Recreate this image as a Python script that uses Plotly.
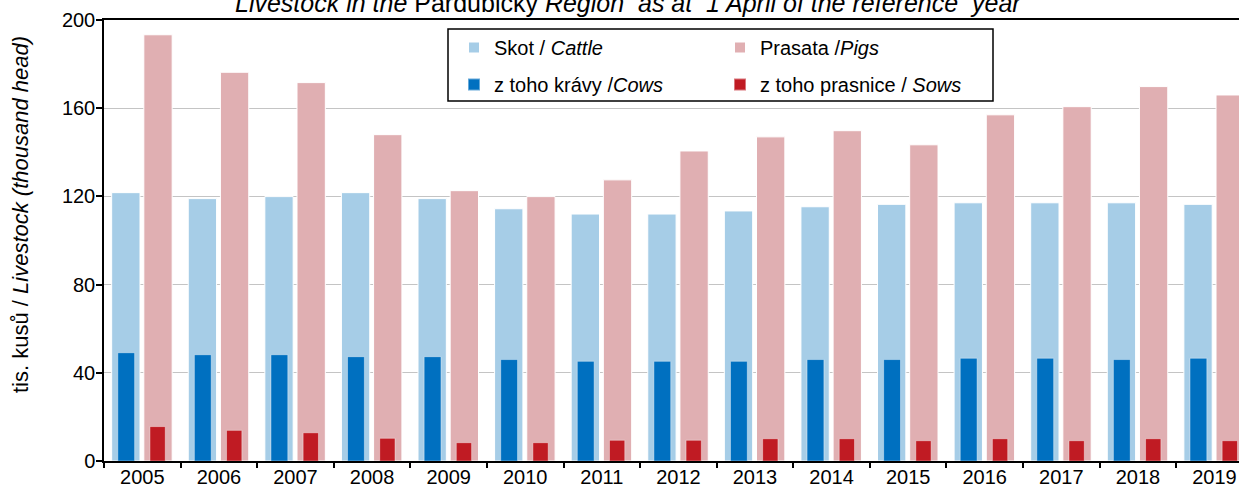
import plotly.graph_objects as go

years = [str(y) for y in range(2005, 2020)]
cattle = [121.7, 119.0, 119.9, 121.7, 119.0, 114.4, 112.0, 112.0, 113.4, 115.3, 116.4, 117.1, 117.1, 117.1, 116.4]
pigs = [193.3, 176.3, 171.6, 148.0, 122.6, 119.9, 127.5, 140.6, 147.0, 149.8, 143.4, 157.0, 160.7, 169.8, 166.0]
cows = [49.1, 48.2, 48.2, 47.3, 47.3, 46.0, 45.2, 45.2, 45.2, 46.0, 46.0, 46.6, 46.6, 46.0, 46.6]
sows = [15.6, 13.9, 12.8, 10.3, 8.3, 8.3, 9.4, 9.4, 10.1, 10.1, 9.2, 10.1, 9.2, 10.1, 9.2]

title_text = "<i>Livestock in the</i> Pardubický <i>Region  as at  1 April of the reference  year</i>"
ytitle_text = "tis. kusů / <i>Livestock (thousand head)</i>"

C_CATTLE = "#A6CDE7"
C_PIGS = "#E0AFB2"
C_COWS = "#0070C0"
C_SOWS = "#C01B23"

FONT = "Liberation Sans, Arial, sans-serif"

W, H = 1239, 497
L, T, B = 104, 20, 36
PW, PH = W - L, H - T - B

def px_x(x):
    return (x - L) / PW

def px_y(y):
    return 1 - (y - T) / PH

fig = go.Figure()
line = dict(color="white", width=1)
fig.add_trace(go.Bar(x=years, y=cattle, name="Skot / <i>Cattle</i>", marker=dict(color=C_CATTLE, line=line),
                     offset=-0.40, width=0.37, legend="legend", legendgroup="a"))
fig.add_trace(go.Bar(x=years, y=pigs, name="Prasata /<i>Pigs</i>", marker=dict(color=C_PIGS, line=line),
                     offset=0.02, width=0.37, legend="legend2", legendgroup="b"))
fig.add_trace(go.Bar(x=years, y=cows, name="z toho krávy /<i>Cows</i>",
                     marker=dict(color=C_COWS, line=dict(color="rgba(255,255,255,0.4)", width=1)),
                     offset=-0.32, width=0.22, legend="legend", legendgroup="c"))
fig.add_trace(go.Bar(x=years, y=sows, name="z toho prasnice / <i>Sows</i>",
                     marker=dict(color=C_SOWS, line=dict(color="rgba(255,255,255,0.4)", width=1)),
                     offset=0.10, width=0.20, legend="legend2", legendgroup="d"))

legend_common = dict(orientation="v", bgcolor="rgba(0,0,0,0)", borderwidth=0,
                     font=dict(family=FONT, size=20, color="black"),
                     xref="paper", yref="paper", xanchor="left", yanchor="top",
                     tracegroupgap=8, itemsizing="constant", groupclick="toggleitem")

fig.update_layout(
    width=W, height=H,
    margin=dict(l=L, r=0, t=T, b=B, autoexpand=False),
    paper_bgcolor="white", plot_bgcolor="white",
    barmode="overlay",
    font=dict(family=FONT, size=20, color="black"),
    legend=dict(x=px_x(454), y=px_y(28), **legend_common),
    legend2=dict(x=px_x(720), y=px_y(28), **legend_common),
    xaxis=dict(
        type="category", range=[-0.5, 14.32],
        tickson="boundaries", ticks="outside", ticklen=5, tickcolor="black", tickwidth=1.5,
        showline=True, linecolor="black", linewidth=1.5, mirror=True,
        showgrid=False, tickfont=dict(size=20), ticklabelstandoff=-3,
    ),
    yaxis=dict(
        range=[0, 200], tickvals=[0, 40, 80, 120, 160, 200],
        ticks="outside", ticklen=6, tickcolor="black", tickwidth=1.5,
        showline=True, linecolor="black", linewidth=1.5,
        showgrid=True, gridcolor="#C4C4C4", gridwidth=1.3,
        zeroline=False, tickfont=dict(size=20), ticklabelstandoff=-3,
    ),
    annotations=[
        dict(text=title_text, xref="paper", yref="paper",
             x=px_x(628), y=px_y(3), xanchor="center", yanchor="middle",
             showarrow=False, font=dict(family=FONT, size=25, color="black")),
        dict(text=ytitle_text, xref="paper", yref="paper", textangle=-90,
             x=px_x(20), y=px_y(215), xanchor="center", yanchor="middle",
             showarrow=False, font=dict(family=FONT, size=22, color="black")),
    ],
    shapes=[dict(type="rect", xref="paper", yref="paper",
                 x0=px_x(448), x1=px_x(993), y0=px_y(101), y1=px_y(29),
                 line=dict(color="black", width=1.5), fillcolor="rgba(0,0,0,0)", layer="above")],
    showlegend=True,
)

fig.write_html("out.html", config={"displayModeBar": False},
               post_script="document.body.style.margin='0';document.body.style.overflow='hidden';")
